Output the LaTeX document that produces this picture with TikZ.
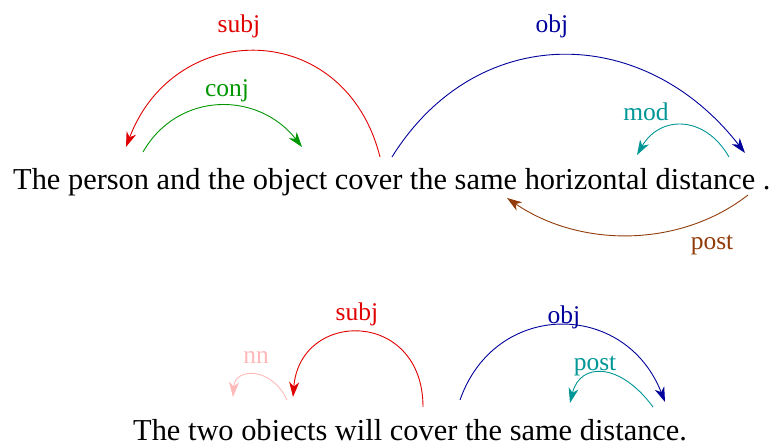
\documentclass[tikz,border=0pt]{standalone}
\usepackage{fontspec}
\setmainfont{Liberation Serif}
\usetikzlibrary{arrows.meta}
\definecolor{csubj}{RGB}{225,0,0}
\definecolor{cconj}{RGB}{0,150,0}
\definecolor{cobj}{RGB}{0,0,155}
\definecolor{cmod}{RGB}{0,150,150}
\definecolor{cpost}{RGB}{145,60,10}
\definecolor{cnn}{RGB}{255,185,185}
\tikzset{
  arc/.style={line width=0.9pt,-{Stealth[length=15pt,width=10pt,inset=4.5pt]}},
  word/.style={inner sep=0pt,anchor=base west,font=\fontsize{30.4}{36}\selectfont},
  lbl/.style={inner sep=0pt,anchor=base,font=\fontsize{25.5}{30}\selectfont}
}
\begin{document}
\begin{tikzpicture}[x=1pt,y=-1pt]
\useasboundingbox (0,0) rectangle (780,441);
% sentences
\node[word] (sentA) at (13,190) {The person and the object cover the same horizontal distance .};
\node[word] (sentB) at (133,440) {The two objects will cover the same distance.};
% endpoints, sentence A
\coordinate (aCover1) at (380,157);
\coordinate (aPerson) at (126,147);
\coordinate (aPerson2) at (143,152);
\coordinate (aObject) at (302,147);
\coordinate (aCover2) at (392,157);
\coordinate (aDist1) at (745,153);
\coordinate (aDist2) at (729,157);
\coordinate (aHoriz) at (637,155);
\coordinate (aDot) at (748,195);
\coordinate (aSame) at (507,198);
% endpoints, sentence B
\coordinate (bObjects1) at (287,400);
\coordinate (bTwo) at (233,397);
\coordinate (bCover1) at (423,407);
\coordinate (bObjects2) at (293,397);
\coordinate (bCover2) at (460,400);
\coordinate (bDist1) at (665,402);
\coordinate (bDist2) at (653,407);
\coordinate (bSame) at (570,403);
% arcs, sentence A
\draw[arc,csubj] (aCover1) .. controls (345,18) and (175,18) .. (aPerson);
\draw[arc,cconj] (aPerson2) .. controls (178,91) and (258,91) .. (aObject);
\draw[arc,cobj] (aCover2) .. controls (476,22) and (643,22) .. (aDist1);
\draw[arc,cmod] (aDist2) .. controls (705,115) and (660,115) .. (aHoriz);
\draw[arc,cpost] (aDot) .. controls (680,248) and (580,248) .. (aSame);
% arcs, sentence B
\draw[arc,cnn] (bObjects1) .. controls (272,367) and (235,367) .. (bTwo);
\draw[arc,csubj] (bCover1) .. controls (423,309) and (300,309) .. (bObjects2);
\draw[arc,cobj] (bCover2) .. controls (495,300) and (625,300) .. (bDist1);
\draw[arc,cmod] (bDist2) .. controls (620,362) and (580,362) .. (bSame);
% labels
\node[lbl,csubj] (lA1) at (239,33) {subj};
\node[lbl,cconj] (lA2) at (227,97) {conj};
\node[lbl,cobj] (lA3) at (552,33) {obj};
\node[lbl,cmod] (lA4) at (646,121) {mod};
\node[lbl,cpost] (lA5) at (712,250) {post};
\node[lbl,cnn] (lB1) at (256,363) {nn};
\node[lbl,csubj] (lB2) at (357,320) {subj};
\node[lbl,cobj] (lB3) at (564,323) {obj};
\node[lbl,cmod] (lB4) at (595,370) {post};
\end{tikzpicture}
\end{document}
